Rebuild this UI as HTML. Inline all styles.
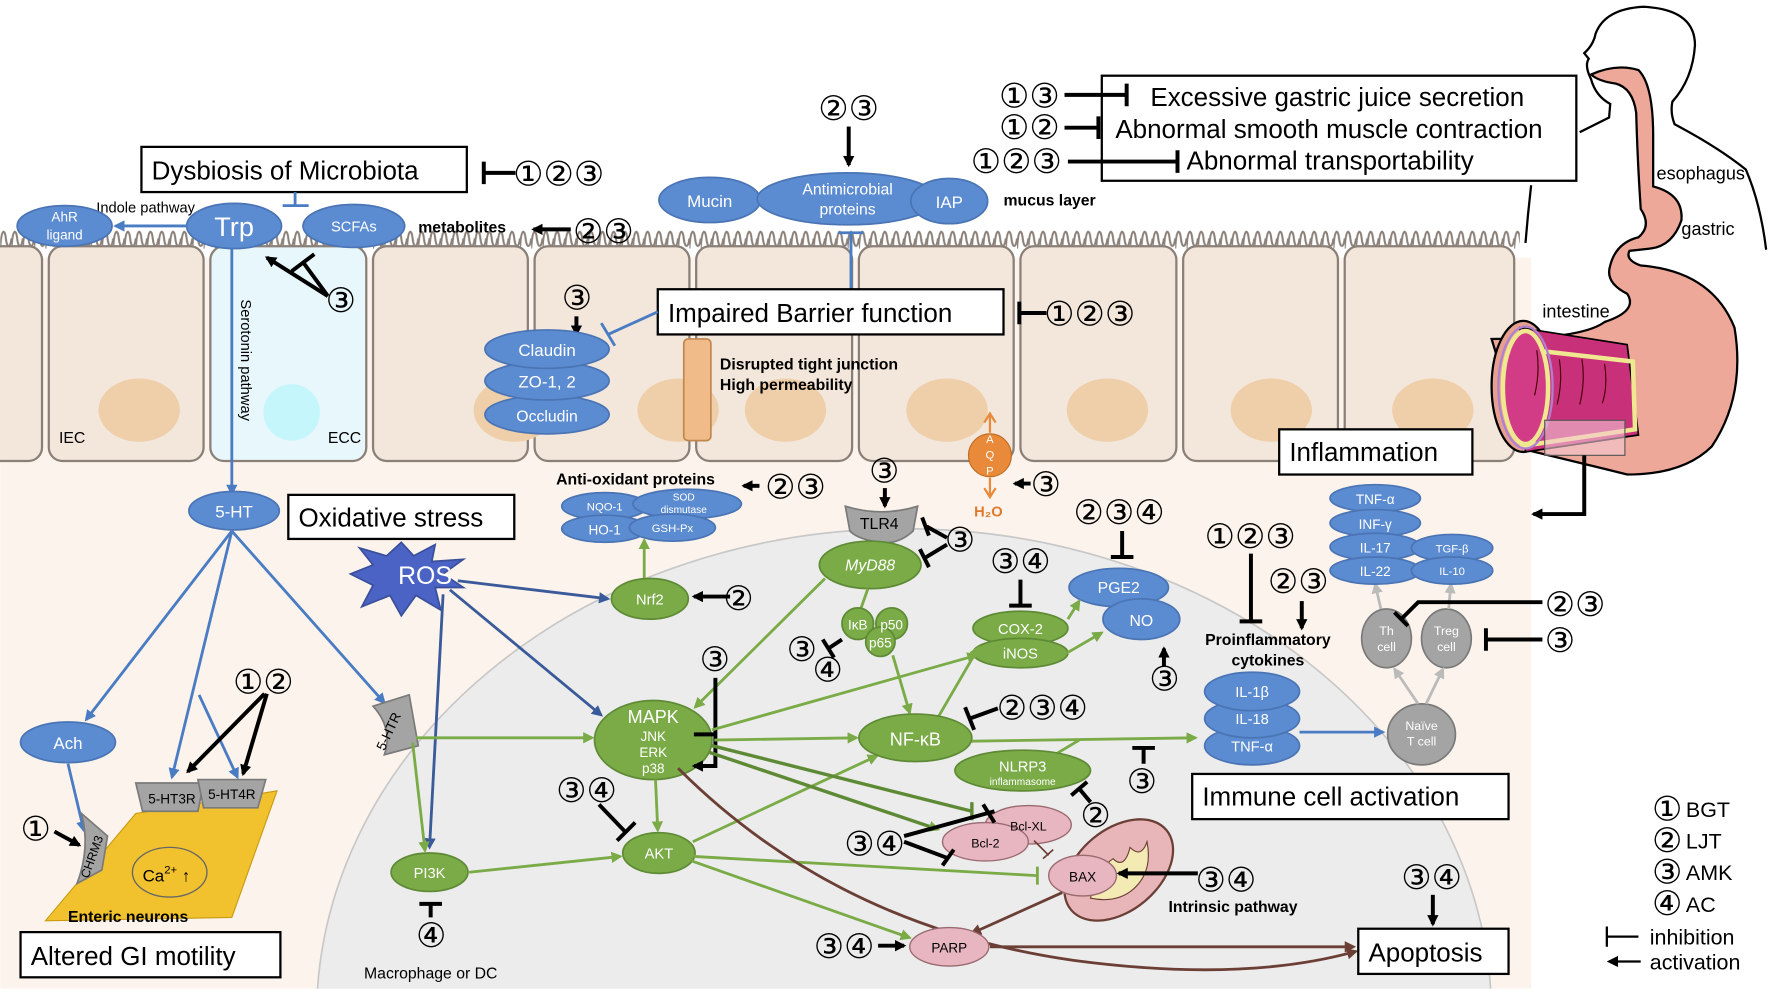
<!DOCTYPE html>
<html><head><meta charset="utf-8"><style>
html,body{margin:0;padding:0;background:#fff;width:1772px;height:992px;overflow:hidden;}
svg{display:block;}
text{font-family:"Liberation Sans","DejaVu Sans",sans-serif;}
.n{font-family:"DejaVu Sans",sans-serif;font-size:30px;font-weight:normal;fill:#000;}
.bx{fill:#fff;stroke:#000;stroke-width:2;}
.bt{font-size:23px;fill:#000;}
.wt{fill:#fff;text-anchor:middle;}
.bl{fill:#5b8bd0;stroke:#4a74b4;stroke-width:1.5;}
.gr{fill:#7aab47;stroke:#5e8a35;stroke-width:1.5;}
.pk{fill:#e8b6c0;stroke:#9a6a70;stroke-width:1.2;}
.gy{fill:#a4a4a4;stroke:#7a7a7a;stroke-width:1.5;}
.k{stroke:#000;stroke-width:3.5;fill:none;}
.lb{stroke:#4a7cc4;stroke-width:2.5;fill:none;}
.lg{stroke:#7aab47;stroke-width:2.5;fill:none;}
.ld{stroke:#3a5a9a;stroke-width:2.5;fill:none;}
.lr{stroke:#6b3f35;stroke-width:2.5;fill:none;}
</style></head><body>
<svg width="1772" height="992" viewBox="0 0 1568 878" xmlns="http://www.w3.org/2000/svg">
<defs>
<marker id="ak" markerWidth="10" markerHeight="10" refX="8" refY="5" orient="auto" markerUnits="userSpaceOnUse"><path d="M0,0 L10,5 L0,10 z" fill="#000"/></marker>
<marker id="ab" markerWidth="10" markerHeight="10" refX="8" refY="5" orient="auto" markerUnits="userSpaceOnUse"><path d="M0,0 L10,5 L0,10 z" fill="#4a7cc4"/></marker>
<marker id="ag" markerWidth="10" markerHeight="10" refX="8" refY="5" orient="auto" markerUnits="userSpaceOnUse"><path d="M0,0 L10,5 L0,10 z" fill="#7aab47"/></marker>
<marker id="ad" markerWidth="10" markerHeight="10" refX="8" refY="5" orient="auto" markerUnits="userSpaceOnUse"><path d="M0,0 L10,5 L0,10 z" fill="#3a5a9a"/></marker>
<marker id="ar" markerWidth="10" markerHeight="10" refX="8" refY="5" orient="auto" markerUnits="userSpaceOnUse"><path d="M0,0 L10,5 L0,10 z" fill="#6b3f35"/></marker>
<marker id="ay" markerWidth="10" markerHeight="10" refX="8" refY="5" orient="auto" markerUnits="userSpaceOnUse"><path d="M0,0 L10,5 L0,10 z" fill="#bbb"/></marker>
<pattern id="wv" x="0" y="198" width="10" height="26" patternUnits="userSpaceOnUse"><path d="M0,22 C1,4 4,4 5,13 C6,22 9,22 10,13" fill="none" stroke="#8a8078" stroke-width="1.8"/></pattern>
<clipPath id="cl"><rect x="0" y="228" width="1355" height="647"/></clipPath>
</defs>

<rect x="0" y="228" width="1355" height="647" fill="#fcf4ec"/>
<ellipse cx="800" cy="900" rx="520" ry="432" fill="#ececec" stroke="#c8c8c8" stroke-width="1.5" clip-path="url(#cl)"/>

<rect x="0" y="198" width="1345" height="26" fill="url(#wv)"/>
<g fill="#f3e7dc" stroke="#8a8078" stroke-width="2">
<rect x="-20" y="218" width="57" height="190" rx="12"/>
<rect x="43" y="218" width="137" height="190" rx="12"/>
<rect x="186" y="218" width="138" height="190" rx="12" fill="#e8f7fb"/>
<rect x="330" y="218" width="137" height="190" rx="12"/>
<rect x="473" y="218" width="137" height="190" rx="12"/>
<rect x="616" y="218" width="138" height="190" rx="12"/>
<rect x="760" y="218" width="137" height="190" rx="12"/>
<rect x="903" y="218" width="138" height="190" rx="12"/>
<rect x="1047" y="218" width="137" height="190" rx="12"/>
<rect x="1190" y="218" width="150" height="190" rx="12"/>
</g>
<g fill="#eecfa9">
<ellipse cx="123" cy="363" rx="36" ry="28"/>
<ellipse cx="455" cy="363" rx="36" ry="28"/>
<ellipse cx="600" cy="363" rx="36" ry="28"/>
<ellipse cx="695" cy="363" rx="36" ry="28"/>
<ellipse cx="838" cy="363" rx="36" ry="28"/>
<ellipse cx="980" cy="363" rx="36" ry="28"/>
<ellipse cx="1125" cy="363" rx="36" ry="28"/>
<ellipse cx="1268" cy="363" rx="36" ry="28"/>
</g>
<circle cx="258" cy="365" r="25" fill="#c5f6fc"/>
<text x="52" y="392" font-size="14">IEC</text>
<text x="290" y="392" font-size="14">ECC</text>

<!-- stomach illustration -->
<g stroke="#000" stroke-width="2" fill="none">
<path d="M1398,117 L1424,104 L1425,92 Q1412,85 1408,70 Q1402,58 1406,52 L1402,47 Q1410,40 1412,30 Q1420,8 1454,6 Q1500,8 1500,40 Q1498,70 1480,90 Q1478,100 1482,110 Q1520,130 1545,150 Q1558,180 1563,221"/>
<path d="M1355,164 Q1352,190 1350,215"/>
</g>
<path d="M1408,66 Q1430,56 1450,62 Q1463,75 1463,120 L1463,165 Q1490,172 1488,195 Q1480,218 1460,220 L1442,222 Q1438,230 1452,235 Q1515,240 1535,290 Q1545,350 1515,395 Q1490,420 1440,420 L1420,415 L1350,398 L1320,300 Q1400,300 1420,285 Q1450,275 1440,260 Q1420,250 1425,235 Q1430,215 1450,210 Q1462,200 1452,185 Q1449,140 1448,100 Q1445,78 1430,74 Q1415,72 1408,66 z" fill="#eea89a" stroke="#000" stroke-width="2"/>
<ellipse cx="1348" cy="342" rx="28" ry="58" fill="#e6a090" stroke="#000" stroke-width="2"/>
<path d="M1345,290 L1440,305 L1450,385 L1350,400 z" fill="#c8307a" stroke="#000" stroke-width="1.5"/>
<path d="M1340,308 L1445,320 L1447,380 L1345,395" fill="none" stroke="#f0e890" stroke-width="4"/>
<ellipse cx="1350" cy="343" rx="20" ry="50" fill="#d23c86" stroke="#f0e890" stroke-width="4"/>
<ellipse cx="1350" cy="343" rx="24" ry="54" fill="none" stroke="#b080d0" stroke-width="2"/>
<path d="M1360,310 q3,20 -2,40 M1380,318 q3,20 -2,40 M1400,318 q3,20 -2,40 M1420,322 q3,20 -2,35" stroke="#400" stroke-width="1" fill="none"/>
<rect x="1367" y="372" width="71" height="31" fill="#f4c8d4" fill-opacity="0.6" stroke="#555" stroke-width="1"/>
<path d="M1402,403 L1402,455 L1357,455" class="k" stroke-width="2.5" marker-end="url(#ak)"/>
<text x="1466" y="159" font-size="16">esophagus</text>
<text x="1488" y="208" font-size="16">gastric</text>
<text x="1365" y="281" font-size="16">intestine</text>

<!-- top right box -->
<rect x="975" y="67" width="420" height="93" class="bx"/>
<text x="1018" y="94" class="bt" font-size="22">Excessive gastric juice secretion</text>
<text x="987" y="122" class="bt" font-size="22">Abnormal smooth muscle contraction</text>
<text x="1050" y="150" class="bt" font-size="22">Abnormal transportability</text>
<text x="884" y="95" class="n">①③</text>
<path d="M942,84 L997,84 M997,74 L997,94" class="k"/>
<text x="884" y="123" class="n">①②</text>
<path d="M942,113 L972,113 M972,103 L972,123" class="k"/>
<text x="859" y="153" class="n">①②③</text>
<path d="M945,143 L1042,143 M1042,133 L1042,153" class="k"/>

<!-- Dysbiosis -->
<rect x="125" y="130" width="288" height="40" class="bx"/>
<text x="134" y="159" class="bt">Dysbiosis of Microbiota</text>
<path d="M428,143 L428,163 M428,153 L456,153" class="k"/>
<text x="454" y="164" class="n">①②③</text>
<path d="M261,170 L261,182 M250,182 L273,182" class="lb"/>
<text x="85" y="188" font-size="13">Indole pathway</text>
<ellipse cx="57" cy="200" rx="42" ry="18" class="bl"/>
<text x="57" y="196" class="wt" font-size="12">AhR</text><text x="57" y="212" class="wt" font-size="12">ligand</text>
<ellipse cx="207" cy="200" rx="42" ry="20" class="bl"/>
<text x="207" y="209" class="wt" font-size="24">Trp</text>
<ellipse cx="313" cy="200" rx="45" ry="19" class="bl"/>
<text x="313" y="205" class="wt" font-size="13">SCFAs</text>
<path d="M166,200 L102,200" class="lb" marker-end="url(#ab)"/>
<text x="370" y="206" font-size="14" font-weight="bold">metabolites</text>
<path d="M505,203 L472,203" class="k" marker-end="url(#ak)"/>
<text x="507" y="215" class="n">②③</text>
<path d="M290,262 L236,228" class="k" marker-end="url(#ak)"/>
<path d="M290,262 L268,232 M258,240 L278,225" class="k"/>
<text x="288" y="276" class="n">③</text>

<!-- serotonin -->
<path d="M205,220 L205,437" class="lb" stroke-width="2" marker-end="url(#ab)"/>
<text x="0" y="0" font-size="13" transform="translate(213,265) rotate(90)">Serotonin pathway</text>
<ellipse cx="207" cy="452" rx="40" ry="17" class="bl"/>
<text x="207" y="458" class="wt" font-size="15">5-HT</text>
<rect x="255" y="438" width="200" height="39" class="bx"/>
<text x="264" y="466" class="bt">Oxidative stress</text>
<g class="lb">
<path d="M205,470 L76,637" marker-end="url(#ab)"/>
<path d="M205,470 L152,688" marker-end="url(#ab)"/>
<path d="M205,470 L340,622" marker-end="url(#ab)"/>
<path d="M176,615 L210,688" marker-end="url(#ab)"/>
<path d="M60,676 L74,735" marker-end="url(#ab)"/>
<path d="M150,715 L150,758" marker-end="url(#ab)"/>
<path d="M205,712 L168,762" marker-end="url(#ab)"/>
</g>
<ellipse cx="60" cy="657" rx="42" ry="18" class="bl"/>
<text x="60" y="663" class="wt" font-size="15">Ach</text>
<path d="M40,815 L120,720 L245,700 L205,812 z" fill="#f2c22e" stroke="#c89a10" stroke-width="1"/>
<path d="M120,693 L180,693 L175,718 L126,718 z" class="gy"/>
<path d="M175,690 L235,690 L228,715 L180,715 z" class="gy"/>
<text x="152" y="711" font-size="12" text-anchor="middle" fill="#000">5-HT3R</text>
<text x="205" y="707" font-size="12" text-anchor="middle" fill="#000">5-HT4R</text>
<path d="M72,720 L95,740 L90,770 L68,782 Q80,750 72,720 z" class="gy"/>
<text x="0" y="0" font-size="11" transform="translate(78,778) rotate(-70)">CHRM3</text>
<ellipse cx="150" cy="772" rx="33" ry="22" fill="#f2c22e" stroke="#666" stroke-width="1.2"/>
<text x="126" y="780" font-size="15">Ca<tspan font-size="10" dy="-7">2+</tspan><tspan dy="7"> ↑</tspan></text>
<text x="60" y="816" font-size="14" font-weight="bold">Enteric neurons</text>
<text x="18" y="744" class="n">①</text>
<path d="M48,736 L70,748" class="k" marker-end="url(#ak)"/>
<text x="206" y="614" class="n">①②</text>
<path d="M234,614 L166,683" class="k" marker-end="url(#ak)"/>
<path d="M236,614 L215,685" class="k" marker-end="url(#ak)"/>
<rect x="18" y="825" width="230" height="40" class="bx"/>
<text x="27" y="854" class="bt">Altered GI motility</text>

<path d="M330,625 L362,615 L370,660 L340,668 Q348,645 330,625 z" class="gy"/>
<text x="0" y="0" font-size="12" transform="translate(340,665) rotate(-65)">5-HTR</text>

<!-- ROS -->
<path d="M355,480 L366,492 L385,482 L382,497 L410,495 L392,508 L410,520 L385,520 L390,540 L368,527 L355,545 L345,527 L320,537 L330,518 L310,508 L330,500 L318,485 L342,492 z" fill="#4a63c4" stroke="#3a4f9a" stroke-width="1.5"/>
<text x="376" y="517" class="wt" font-size="22">ROS</text>
<g class="ld">
<path d="M405,514 L538,530" marker-end="url(#ad)"/>
<path d="M398,522 L532,633" marker-end="url(#ad)"/>
<path d="M392,526 L380,750" marker-end="url(#ad)"/>
</g>

<!-- mucus layer -->
<text x="724" y="106" class="n">②③</text>
<path d="M751,112 L751,146" class="k" marker-end="url(#ak)"/>
<ellipse cx="628" cy="177" rx="45" ry="20" class="bl"/>
<ellipse cx="750" cy="176" rx="80" ry="23" class="bl"/>
<text x="750" y="172" class="wt" font-size="14">Antimicrobial</text>
<text x="750" y="190" class="wt" font-size="14">proteins</text>
<ellipse cx="840" cy="178" rx="34" ry="20" class="bl"/>
<text x="840" y="184" class="wt" font-size="15">IAP</text>
<text x="628" y="183" class="wt" font-size="15">Mucin</text>
<text x="888" y="182" font-size="14" font-weight="bold">mucus layer</text>
<path d="M753,256 L753,206 M742,206 L764,206" class="lb"/>
<rect x="582" y="256" width="306" height="40" class="bx"/>
<text x="591" y="285" class="bt">Impaired Barrier function</text>
<path d="M902,267 L902,287 M902,277 L926,277" class="k"/>
<text x="924" y="288" class="n">①②③</text>
<path d="M582,276 L538,296 M532,286 L544,306" class="lb"/>
<text x="497" y="274" class="n">③</text>
<path d="M510,280 L510,296" class="k" marker-end="url(#ak)"/>
<ellipse cx="484" cy="367" rx="55" ry="17" class="bl"/>
<ellipse cx="484" cy="337" rx="55" ry="17" class="bl"/>
<ellipse cx="484" cy="309" rx="55" ry="17" class="bl"/>
<text x="484" y="315" class="wt" font-size="15">Claudin</text>
<text x="484" y="343" class="wt" font-size="15">ZO-1, 2</text>
<text x="484" y="373" class="wt" font-size="14">Occludin</text>
<rect x="605" y="300" width="24" height="90" rx="4" fill="#f0bb88" stroke="#c08850" stroke-width="1.5"/>
<text x="637" y="327" font-size="14" font-weight="bold">Disrupted tight junction</text>
<text x="637" y="345" font-size="14" font-weight="bold">High permeability</text>

<!-- AQP -->
<circle cx="876" cy="403" r="19" fill="#e98a3a" stroke="#c06a20"/>
<text x="876" y="392" class="wt" font-size="10">A</text><text x="876" y="406" class="wt" font-size="10">Q</text><text x="876" y="420" class="wt" font-size="10">P</text>
<path d="M876,383 L876,368 M871,374 L876,366 L881,374 M876,423 L876,438 M871,432 L876,440 L881,432" stroke="#e98a3a" stroke-width="2" fill="none"/>
<text x="862" y="457" font-size="13" font-weight="bold" fill="#e07a2a">H₂O</text>
<path d="M912,428 L898,428" class="k" marker-end="url(#ak)"/>
<text x="912" y="439" class="n">③</text>

<!-- antioxidant -->
<text x="492" y="429" font-size="14" font-weight="bold">Anti-oxidant proteins</text>
<path d="M672,430 L658,430" class="k" marker-end="url(#ak)"/>
<text x="677" y="441" class="n">②③</text>
<ellipse cx="535" cy="448" rx="38" ry="12" class="bl"/>
<ellipse cx="535" cy="468" rx="38" ry="12" class="bl"/>
<ellipse cx="608" cy="446" rx="48" ry="13" class="bl"/>
<ellipse cx="595" cy="467" rx="38" ry="12" class="bl"/>
<text x="535" y="452" class="wt" font-size="10">NQO-1</text>
<text x="535" y="473" class="wt" font-size="12">HO-1</text>
<text x="605" y="443" class="wt" font-size="9">SOD</text><text x="605" y="454" class="wt" font-size="9">dismutase</text>
<text x="595" y="471" class="wt" font-size="10">GSH-Px</text>
<path d="M570,512 L570,478" class="lg" marker-end="url(#ag)"/>
<ellipse cx="575" cy="530" rx="34" ry="18" class="gr"/>
<text x="575" y="535" class="wt" font-size="13">Nrf2</text>
<path d="M646,528 L614,528" class="k" marker-end="url(#ak)"/>
<text x="640" y="540" class="n">②</text>

<!-- TLR4 / MyD88 -->
<text x="769" y="427" class="n">③</text>
<path d="M783,432 L783,448" class="k" marker-end="url(#ak)"/>
<path d="M748,448 Q780,458 812,448 L808,470 Q795,482 780,480 Q760,478 752,470 z" class="gy"/>
<text x="778" y="468" font-size="14" text-anchor="middle">TLR4</text>
<path d="M838,476 L820,466 M816,458 L822,474 M838,482 L818,494 M814,486 L822,502" class="k"/>
<text x="836" y="488" class="n">③</text>
<ellipse cx="770" cy="500" rx="45" ry="21" class="gr"/>
<text x="770" y="505" class="wt" font-size="14" font-style="italic">MyD88</text>
<path d="M768,521 L762,538" class="lg"/>
<circle cx="759" cy="552" r="14" class="gr"/><circle cx="789" cy="552" r="14" class="gr"/><circle cx="779" cy="568" r="13" class="gr"/>
<text x="759" y="557" class="wt" font-size="12">IκB</text><text x="789" y="557" class="wt" font-size="12">p50</text><text x="779" y="573" class="wt" font-size="12">p65</text>
<path d="M745,566 L733,574 M728,566 L738,582" class="k"/>
<text x="696" y="585" class="n">③</text><text x="719" y="603" class="n">④</text>
<path d="M790,580 L805,631" class="lg" marker-end="url(#ag)"/>
<path d="M730,512 L615,626" class="lg" marker-end="url(#ag)"/>

<!-- COX2 / PGE2 -->
<text x="876" y="507" class="n">③④</text>
<path d="M903,513 L903,536 M893,536 L913,536" class="k"/>
<ellipse cx="903" cy="556" rx="42" ry="15" class="gr"/>
<ellipse cx="903" cy="578" rx="42" ry="13" class="gr"/>
<text x="903" y="561" class="wt" font-size="13">COX-2</text>
<text x="903" y="583" class="wt" font-size="13">iNOS</text>
<text x="950" y="464" class="n">②③④</text>
<path d="M993,470 L993,493 M983,493 L1003,493" class="k"/>
<ellipse cx="990" cy="520" rx="44" ry="17" class="bl"/>
<ellipse cx="1010" cy="548" rx="34" ry="18" class="bl"/>
<text x="990" y="525" class="wt" font-size="14">PGE2</text>
<text x="1010" y="554" class="wt" font-size="14">NO</text>
<path d="M945,548 L955,532" class="lg" marker-end="url(#ag)"/>
<path d="M944,578 L975,560" class="lg" marker-end="url(#ag)"/>
<path d="M1030,590 L1030,574" class="k" marker-end="url(#ak)"/>
<text x="1017" y="611" class="n">③</text>

<!-- MAPK -->
<ellipse cx="578" cy="655" rx="52" ry="35" class="gr"/>
<text x="578" y="640" class="wt" font-size="16">MAPK</text>
<text x="578" y="656" class="wt" font-size="12">JNK</text>
<text x="578" y="670" class="wt" font-size="12">ERK</text>
<text x="578" y="684" class="wt" font-size="12">p38</text>
<text x="619" y="594" class="n">③</text>
<path d="M633,600 L633,678 L618,678 M633,650 L618,650" class="k"/>
<path d="M618,650 L614,650 M618,678 L614,678" class="k" marker-end="url(#ak)"/>
<text x="492" y="710" class="n">③④</text>
<path d="M530,712 L553,736 M546,744 L562,728" class="k"/>
<ellipse cx="583" cy="755" rx="32" ry="18" class="gr"/>
<text x="583" y="760" class="wt" font-size="13">AKT</text>
<ellipse cx="380" cy="772" rx="34" ry="17" class="gr"/>
<text x="380" y="777" class="wt" font-size="13">PI3K</text>
<path d="M381,812 L381,800 M371,800 L391,800" class="k"/>
<text x="368" y="838" class="n">④</text>
<text x="322" y="866" font-size="14">Macrophage or DC</text>

<g class="lg">
<path d="M368,653 L524,653" marker-end="url(#ag)"/>
<path d="M365,657 L376,753" marker-end="url(#ag)"/>
<path d="M415,772 L549,758" marker-end="url(#ag)"/>
<path d="M580,690 L582,735" marker-end="url(#ag)"/>
<path d="M632,655 L758,653" marker-end="url(#ag)"/>
<path d="M630,646 L864,580" marker-end="url(#ag)"/>
<path d="M830,635 L866,573" marker-end="url(#ag)"/>
<path d="M613,745 L776,669" marker-end="url(#ag)"/>
<path d="M612,762 L805,830" marker-end="url(#ag)"/>
<path d="M614,758 L918,775 M918,767 L918,783"/>
<path d="M860,656 L1058,653" marker-end="url(#ag)"/>
<path d="M930,670 L955,655"/>
</g>
<g stroke="#5e8a35" stroke-width="3" fill="none">
<path d="M630,660 L860,718 M860,710 L860,726"/>
<path d="M628,666 L830,734" marker-end="url(#ag)"/>
</g>
<path d="M600,680 Q740,820 950,850 Q1100,870 1200,842" class="lr" marker-end="url(#ar)"/>

<ellipse cx="810" cy="653" rx="50" ry="21" class="gr"/>
<text x="810" y="660" class="wt" font-size="16">NF-κB</text>
<path d="M883,627 L858,636 M854,626 L862,646" class="k"/>
<text x="882" y="637" class="n">②③④</text>
<ellipse cx="905" cy="682" rx="60" ry="18" class="gr"/>
<text x="905" y="683" class="wt" font-size="13">NLRP3</text>
<text x="905" y="695" class="wt" font-size="9">inflammasome</text>
<path d="M1012,662 L1012,676 M1002,662 L1022,662" class="k"/>
<text x="997" y="702" class="n">③</text>
<path d="M965,710 L955,698 M948,704 L962,692" class="k"/>
<text x="956" y="732" class="n">②</text>

<!-- Bcl / BAX -->
<ellipse cx="910" cy="730" rx="38" ry="17" class="pk"/>
<ellipse cx="872" cy="745" rx="38" ry="17" class="pk"/>
<text x="910" y="735" font-size="11" text-anchor="middle">Bcl-XL</text>
<text x="872" y="750" font-size="11" text-anchor="middle">Bcl-2</text>
<text x="747" y="757" class="n">③④</text>
<path d="M800,740 L880,718 M870,712 L880,728 M800,745 L840,760 M834,766 L844,752" class="k" stroke-width="3"/>
<path d="M915,744 L928,757 M923,760 L932,752" stroke="#6b3f35" stroke-width="1.5" fill="none"/>
<ellipse cx="990" cy="770" rx="55" ry="36" transform="rotate(-40 990 770)" fill="#e8b6b8" stroke="#6b3f35" stroke-width="2"/>
<path d="M965,795 Q970,770 985,760 Q995,770 1000,750 Q1010,760 1015,745 Q1020,770 1005,785 Q990,800 965,795 z" fill="#f4eab4" stroke="#6b3f35" stroke-width="1"/>
<ellipse cx="958" cy="775" rx="30" ry="18" class="pk"/>
<text x="958" y="780" font-size="12" text-anchor="middle">BAX</text>
<path d="M1060,773 L990,773" class="k" marker-end="url(#ak)"/>
<text x="1058" y="789" class="n">③④</text>
<text x="1034" y="807" font-size="14" font-weight="bold">Intrinsic pathway</text>
<path d="M940,790 L860,826" class="lr" marker-end="url(#ar)"/>
<ellipse cx="840" cy="838" rx="35" ry="17" class="pk"/>
<text x="840" y="843" font-size="12" text-anchor="middle">PARP</text>
<path d="M876,838 L1198,838" class="lr" marker-end="url(#ar)"/>
<text x="720" y="848" class="n">③④</text>
<path d="M777,837 L800,837" class="k" marker-end="url(#ak)"/>
<text x="1240" y="787" class="n">③④</text>
<path d="M1268,792 L1268,818" class="k" marker-end="url(#ak)"/>
<rect x="1202" y="822" width="133" height="40" class="bx"/>
<text x="1211" y="851" class="bt">Apoptosis</text>

<!-- cytokines -->
<text x="1066" y="485" class="n">①②③</text>
<path d="M1107,490 L1107,550 M1097,550 L1117,550" class="k"/>
<text x="1122" y="525" class="n">②③</text>
<path d="M1152,532 L1152,556" class="k" marker-end="url(#ak)"/>
<text x="1122" y="571" font-size="14" font-weight="bold" text-anchor="middle">Proinflammatory</text>
<text x="1122" y="589" font-size="14" font-weight="bold" text-anchor="middle">cytokines</text>
<ellipse cx="1108" cy="660" rx="42" ry="17" class="bl"/>
<ellipse cx="1108" cy="636" rx="42" ry="17" class="bl"/>
<ellipse cx="1108" cy="612" rx="42" ry="17" class="bl"/>
<text x="1108" y="617" class="wt" font-size="13">IL-1β</text>
<text x="1108" y="641" class="wt" font-size="13">IL-18</text>
<text x="1108" y="665" class="wt" font-size="13">TNF-α</text>
<path d="M1150,648 L1224,648" class="lb" marker-end="url(#ab)"/>
<ellipse cx="1258" cy="650" rx="30" ry="27" class="gy"/>
<text x="1258" y="646" class="wt" font-size="11">Naïve</text><text x="1258" y="660" class="wt" font-size="11">T cell</text>
<ellipse cx="1227" cy="565" rx="22" ry="26" class="gy"/>
<ellipse cx="1280" cy="565" rx="22" ry="26" class="gy"/>
<text x="1227" y="562" class="wt" font-size="11">Th</text><text x="1227" y="576" class="wt" font-size="11">cell</text>
<text x="1280" y="562" class="wt" font-size="11">Treg</text><text x="1280" y="576" class="wt" font-size="11">cell</text>
<g stroke="#bbb" stroke-width="2.5" fill="none">
<path d="M1255,623 L1234,592" marker-end="url(#ay)"/>
<path d="M1262,623 L1277,592" marker-end="url(#ay)"/>
<path d="M1222,539 L1217,517" marker-end="url(#ay)"/>
<path d="M1282,539 L1284,517" marker-end="url(#ay)"/>
</g>
<ellipse cx="1217" cy="441" rx="40" ry="12" class="bl"/>
<ellipse cx="1217" cy="463" rx="40" ry="12" class="bl"/>
<ellipse cx="1217" cy="484" rx="40" ry="12" class="bl"/>
<ellipse cx="1217" cy="505" rx="40" ry="12" class="bl"/>
<ellipse cx="1285" cy="485" rx="36" ry="12" class="bl"/>
<ellipse cx="1285" cy="505" rx="36" ry="12" class="bl"/>
<text x="1217" y="446" class="wt" font-size="12">TNF-α</text>
<text x="1217" y="468" class="wt" font-size="12">INF-γ</text>
<text x="1217" y="489" class="wt" font-size="12">IL-17</text>
<text x="1217" y="510" class="wt" font-size="12">IL-22</text>
<text x="1285" y="489" class="wt" font-size="10">TGF-β</text>
<text x="1285" y="509" class="wt" font-size="10">IL-10</text>
<path d="M1365,533 L1255,533 L1240,548 M1234,542 L1246,554" class="k"/>
<text x="1367" y="545" class="n">②③</text>
<path d="M1365,566 L1315,566 M1315,556 L1315,576" class="k"/>
<text x="1367" y="577" class="n">③</text>
<rect x="1055" y="685" width="280" height="40" class="bx"/>
<text x="1064" y="713" class="bt">Immune cell activation</text>
<rect x="1132" y="380" width="171" height="40" class="bx"/>
<text x="1141" y="408" class="bt">Inflammation</text>

<!-- legend -->
<text x="1462" y="726" class="n" font-size="22">①</text><text x="1492" y="723" font-size="19">BGT</text>
<text x="1462" y="754" class="n" font-size="22">②</text><text x="1492" y="751" font-size="19">LJT</text>
<text x="1462" y="782" class="n" font-size="22">③</text><text x="1492" y="779" font-size="19">AMK</text>
<text x="1462" y="810" class="n" font-size="22">④</text><text x="1492" y="807" font-size="19">AC</text>
<path d="M1422,820 L1422,838 M1422,829 L1450,829" stroke="#000" stroke-width="2" fill="none"/>
<text x="1460" y="836" font-size="19">inhibition</text>
<path d="M1452,851 L1424,851" stroke="#000" stroke-width="2" marker-end="url(#ak)"/>
<text x="1460" y="858" font-size="19">activation</text>
</svg>
</body></html>
